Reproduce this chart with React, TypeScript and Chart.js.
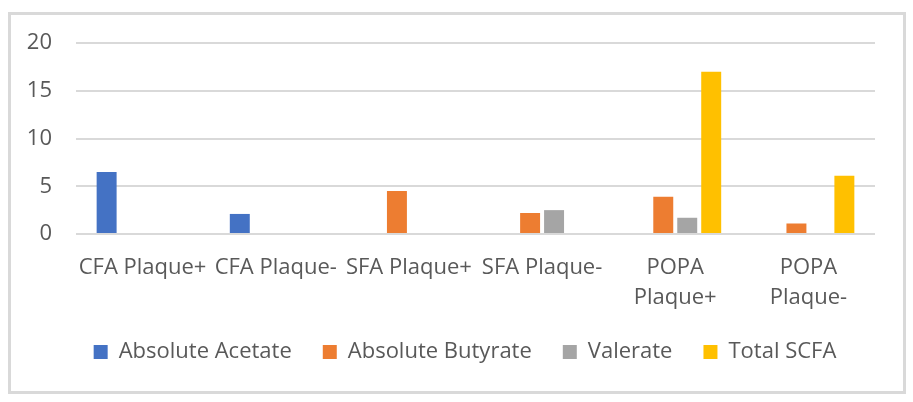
import React, { useEffect, useRef } from "react";
import { Chart, registerables } from "chart.js";

Chart.register(...registerables);

const categories: (string | string[])[] = [
  "CFA Plaque+",
  "CFA Plaque-",
  "SFA Plaque+",
  "SFA Plaque-",
  ["POPA", "Plaque+"],
  ["POPA", "Plaque-"],
];
const absoluteAcetate = [6.5, 2.1, null, null, null, null];
const absoluteButyrate = [null, null, 4.5, 2.2, 3.9, 1.1];
const valerate = [null, null, null, 2.5, 1.7, null];
const totalSCFA = [null, null, null, null, 17.0, 6.1];
const yTicks = [0, 5, 10, 15, 20];

const FONT = "'Open Sans', sans-serif";
const TEXT = "#595959";
const GRID = "#D9D9D9";
const FS = 22;

export default function App() {
  const ref = useRef<HTMLCanvasElement>(null);
  useEffect(() => {
    if (!ref.current) return;
    const chart = new Chart(ref.current, {
      type: "bar",
      data: {
        labels: categories,
        datasets: [
          { label: "Absolute Acetate", data: absoluteAcetate, backgroundColor: "#4472C4" },
          { label: "Absolute Butyrate", data: absoluteButyrate, backgroundColor: "#ED7D31" },
          { label: "Valerate", data: valerate, backgroundColor: "#A5A5A5" },
          { label: "Total SCFA", data: totalSCFA, backgroundColor: "#FFC000" },
        ],
      },
      options: {
        animation: false,
        responsive: false,
        devicePixelRatio: 1,
        categoryPercentage: 0.72,
        barPercentage: 0.833,
        layout: { padding: { top: 28, left: 16, right: 0, bottom: 18 } },
        plugins: {
          tooltip: { enabled: false },
          legend: {
            position: "bottom",
            labels: {
              boxWidth: 14,
              boxHeight: 14,
              padding: 31,
              color: TEXT,
              font: { family: FONT, size: FS },
            },
          },
        },
        scales: {
          x: {
            grid: { display: false, drawTicks: false },
            border: { display: false },
            ticks: {
              color: TEXT,
              font: { family: FONT, size: FS, lineHeight: 30 / FS },
              padding: 19,
              maxRotation: 0,
              autoSkip: false,
            },
            afterFit: (s: any) => {
              s.height = 76;
              s.paddingLeft = 0;
              s.paddingRight = 28;
            },
          },
          y: {
            min: yTicks[0],
            max: yTicks[yTicks.length - 1],
            afterBuildTicks: (s: any) => {
              s.ticks = yTicks.map((v) => ({ value: v }));
            },
            grid: { color: GRID, lineWidth: 2, drawTicks: false },
            border: { display: false },
            ticks: {
              color: TEXT,
              font: { family: FONT, size: FS },
              padding: 24,
            },
            afterFit: (s: any) => {
              s.width = 49;
              s.paddingTop = 0;
              s.paddingBottom = 0;
            },
          },
        },
      },
    });
    return () => chart.destroy();
  }, []);

  return (
    <div style={{ position: "absolute", left: 0, top: 0, width: 913, height: 402, background: "#fff" }}>
      <div
        style={{
          position: "absolute",
          left: 8,
          top: 12,
          width: 898,
          height: 382,
          border: "3px solid #D9D9D9",
          boxSizing: "border-box",
          background: "#fff",
        }}
      >
        <canvas ref={ref} width={892} height={376} style={{ display: "block", width: 892, height: 376 }} />
      </div>
    </div>
  );
}
